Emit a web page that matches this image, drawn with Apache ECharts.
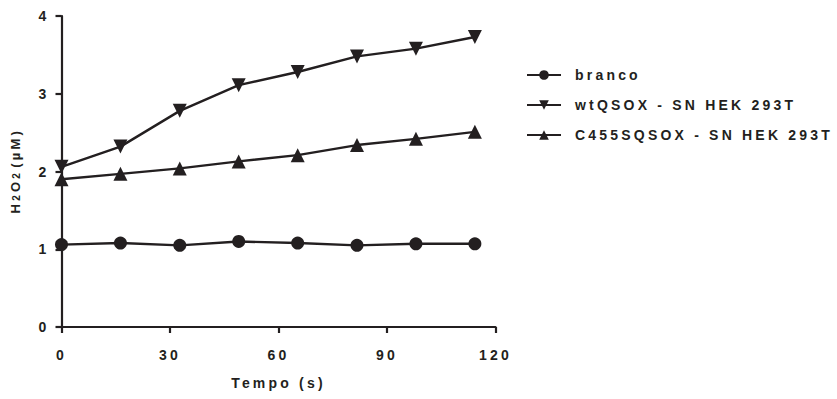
<!DOCTYPE html>
<html>
<head>
<meta charset="utf-8">
<script src="https://cdn.jsdelivr.net/npm/echarts@6/dist/echarts.min.js"></script>
<style>
  html, body { margin: 0; padding: 0; background: #fff; }
  #chart { width: 837px; height: 399px; }
  /* wide tracking on every label, as in the print-style plot */
  #chart text { letter-spacing: 3.2px; }
</style>
</head>
<body>
<div id="chart"></div>
<script>
// Sampling times (s)
const times = [0, 16.3, 32.7, 49, 65.3, 81.7, 98, 114.3];

// H2O2 concentration (µM) per condition
const branco = [1.06, 1.08, 1.05, 1.10, 1.08, 1.05, 1.07, 1.07];
const wtQSOX = [2.06, 2.32, 2.78, 3.11, 3.28, 3.48, 3.58, 3.73];
const c455sQSOX = [1.90, 1.97, 2.04, 2.13, 2.21, 2.34, 2.42, 2.51];

const seriesNames = ['branco', 'wtQSOX - SN HEK 293T', 'C455SQSOX - SN HEK 293T'];
const xTicks = [0, 30, 60, 90, 120];
const yTicks = [0, 1, 2, 3, 4];

const ink = '#231f20';
const fontFamily = '"Liberation Sans", Arial, sans-serif';

const pairs = (ys) => times.map((t, i) => [t, ys[i]]);

function lineSeries(name, ys, symbol, rotate) {
  return {
    name: name,
    type: 'line',
    data: pairs(ys),
    symbol: symbol,
    symbolSize: symbol === 'circle' ? 13 : 14,
    symbolRotate: rotate,
    showAllSymbol: true,
    lineStyle: { color: ink, width: 2.4 },
    itemStyle: { color: ink, borderWidth: 0 },
    emphasis: { disabled: true },
    animation: false
  };
}

const chart = echarts.init(document.getElementById('chart'), null, { renderer: 'svg' });

// letter-spacing widens each rich fragment, so pad fragments to keep them apart
const sp = 3.2;
chart.setOption({
  backgroundColor: '#fff',
  animation: false,
  textStyle: { fontFamily: fontFamily },
  grid: { left: 61.5, right: 341.5, top: 16, bottom: 72, containLabel: false },
  xAxis: {
    type: 'value',
    min: xTicks[0],
    max: xTicks[xTicks.length - 1],
    interval: xTicks[1] - xTicks[0],
    name: 'Tempo (s)',
    nameLocation: 'middle',
    nameGap: 49,
    nameTextStyle: { color: ink, fontSize: 14, fontWeight: 'bold', fontFamily: fontFamily },
    axisLine: { onZero: false, lineStyle: { color: ink, width: 2.2 } },
    axisTick: { show: true, length: 6, lineStyle: { color: ink, width: 2.2 } },
    axisLabel: { color: ink, fontSize: 14, fontWeight: 'bold', margin: 21, fontFamily: fontFamily },
    splitLine: { show: false }
  },
  yAxis: {
    type: 'value',
    min: yTicks[0],
    max: yTicks[yTicks.length - 1],
    interval: yTicks[1] - yTicks[0],
    name: '{t|H}{s|2}{t|O}{s|2}{g|}{t|(µM)}',
    nameLocation: 'middle',
    nameGap: 40,
    nameRotate: 90,
    nameTextStyle: {
      color: ink, fontWeight: 'bold', fontFamily: fontFamily,
      rich: {
        t: { fontSize: 13, fontWeight: 'bold', color: ink, fontFamily: fontFamily, padding: [0, sp, 0, 0] },
        s: { fontSize: 10, fontWeight: 'bold', color: ink, fontFamily: fontFamily, padding: [3, sp, 0, 0] },
        g: { width: 7 }
      }
    },
    axisLine: { onZero: false, lineStyle: { color: ink, width: 2.2 } },
    axisTick: { show: true, length: 6, lineStyle: { color: ink, width: 2.2 } },
    axisLabel: { color: ink, fontSize: 14, fontWeight: 'bold', margin: 12, fontFamily: fontFamily },
    splitLine: { show: false }
  },
  legend: {
    orient: 'vertical',
    left: 521,
    top: 63,
    itemWidth: 34,
    itemHeight: 12,
    itemGap: 16,
    selectedMode: false,
    data: seriesNames,
    textStyle: { color: ink, fontSize: 14, fontWeight: 'bold', fontFamily: fontFamily, padding: [0, 0, 0, 9] }
  },
  series: [
    lineSeries(seriesNames[0], branco, 'circle', 0),
    lineSeries(seriesNames[1], wtQSOX, 'triangle', 180),
    lineSeries(seriesNames[2], c455sQSOX, 'triangle', 0)
  ]
});
</script>
</body>
</html>
